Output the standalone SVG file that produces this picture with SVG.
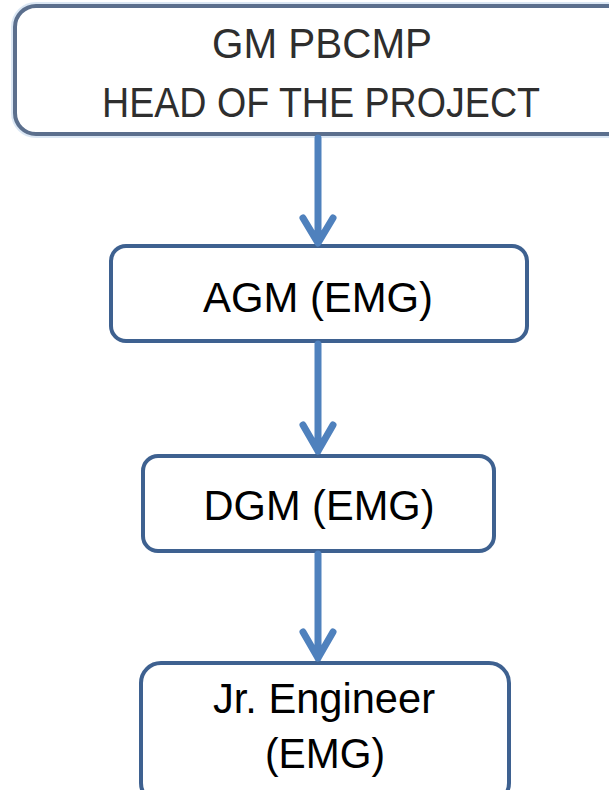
<svg xmlns="http://www.w3.org/2000/svg" width="609" height="790" viewBox="0 0 609 790">
  <defs>
    <style>
      .box { fill: #ffffff; stroke: #3e6190; stroke-width: 4; }
      .top { fill: #ffffff; stroke: #5b6f8d; stroke-width: 4; }
      .halo { fill: none; stroke: #b7cfea; stroke-width: 8; opacity: 0.5; }
      .lbl { font-family: "Liberation Sans", Arial, sans-serif; font-size: 42px; fill: #000000; text-anchor: middle; }
      .toplbl { font-family: "Liberation Sans", Arial, sans-serif; font-size: 42px; fill: #2e2e2e; }
      .conn { fill: none; stroke: #4f81bd; stroke-width: 7; stroke-linecap: round; stroke-linejoin: round; }
    </style>
  </defs>
  <rect width="609" height="790" fill="#ffffff"/>

  <g id="node-gm">
    <rect class="halo" x="15" y="6" width="620" height="128" rx="21"/>
    <rect class="top" x="15" y="6" width="620" height="128" rx="21"/>
    <text class="toplbl" x="212" y="58" textLength="220" lengthAdjust="spacingAndGlyphs">GM PBCMP</text>
    <text class="toplbl" x="102" y="117" textLength="438" lengthAdjust="spacingAndGlyphs">HEAD OF THE PROJECT</text>
  </g>

  <g id="node-agm">
    <rect class="box" x="111" y="246" width="416" height="95" rx="15"/>
    <text class="lbl" x="318" y="312" textLength="230" lengthAdjust="spacingAndGlyphs">AGM (EMG)</text>
  </g>

  <g id="node-dgm">
    <rect class="box" x="143" y="456" width="351" height="95" rx="15"/>
    <text class="lbl" x="319" y="520" textLength="231" lengthAdjust="spacingAndGlyphs">DGM (EMG)</text>
  </g>

  <g id="node-jr">
    <rect class="box" x="141" y="663" width="368" height="140" rx="20"/>
    <text class="lbl" x="324" y="713" textLength="222" lengthAdjust="spacingAndGlyphs">Jr. Engineer</text>
    <text class="lbl" x="325" y="768" textLength="120" lengthAdjust="spacingAndGlyphs">(EMG)</text>
  </g>

  <g id="connectors">
    <path class="conn" d="M318,138 V242 M303,218 L318,243 L333,218"/>
    <path class="conn" d="M318,344 V451 M303,425 L318,451 L333,425"/>
    <path class="conn" d="M318,554 V658 M303,632 L318,658 L333,632"/>
  </g>
</svg>
